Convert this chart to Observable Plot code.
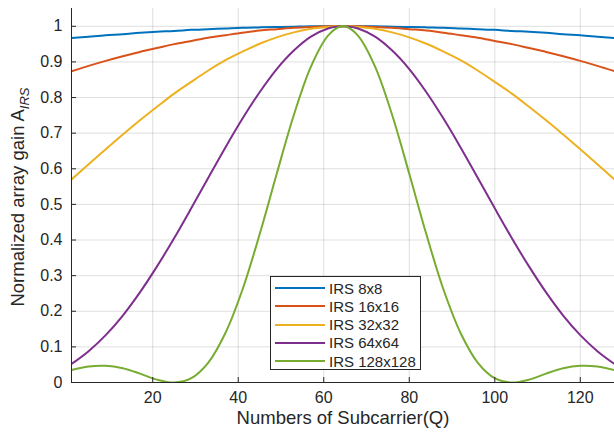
<!DOCTYPE html>
<html>
<head>
<meta charset="utf-8">
<script src="https://cdn.jsdelivr.net/npm/d3@7"></script>
<script src="https://cdn.jsdelivr.net/npm/@observablehq/plot@0.6"></script>
<style>
  html, body { margin: 0; padding: 0; background: #fff; }
  #wrap { position: relative; width: 614px; height: 432px; font-family: "Liberation Sans", Arial, sans-serif; color: #262626; }
  #wrap svg { position: absolute; left: 0; top: 0; }
  .xlabel { position: absolute; left: 343px; top: 418px; transform: translate(-50%, -50%); font-size: 18.5px; white-space: nowrap; }
  .ylabel { position: absolute; left: 19px; top: 197px; transform: translate(-50%, -50%) rotate(-90deg); font-size: 18.5px; white-space: nowrap; }
  .ylabel sub { font-style: italic; font-size: 13px; vertical-align: -5px; }
  .legend { position: absolute; left: 270px; top: 276px; width: 151px; height: 94px; border: 1px solid #262626; background: #fff; padding-top: 2px; box-sizing: border-box; }
  .legend .row { display: flex; align-items: center; height: 18.25px; font-size: 15px; white-space: nowrap; }
  .legend .sw { width: 50px; height: 2px; margin-left: 4px; margin-right: 4px; }
</style>
</head>
<body>
<div id="wrap"></div>
<script>
// ---- data ----
const subcarriers = [1,5,9,13,17,21,25,29,33,37,41,45,49,53,57,61,64,65,68,72,76,80,84,88,92,96,100,104,108,112,116,120,124,128];

const seriesNames = ["IRS 8x8", "IRS 16x16", "IRS 32x32", "IRS 64x64", "IRS 128x128"];
const seriesColors = ["#0072BD", "#D95319", "#EDB120", "#7E2F8E", "#77AC30"];

const gain8 = [0.967,0.971,0.975,0.978,0.982,0.985,0.987,0.990,0.992,0.994,0.996,0.997,0.998,0.999,1.000,1.000,1.000,1.000,1.000,1.000,0.999,0.998,0.997,0.996,0.994,0.992,0.990,0.987,0.985,0.982,0.978,0.975,0.971,0.967];
const gain16 = [0.874,0.889,0.903,0.916,0.928,0.939,0.950,0.959,0.968,0.975,0.982,0.988,0.992,0.996,0.998,1.000,1.000,1.000,1.000,0.998,0.996,0.992,0.988,0.982,0.975,0.968,0.959,0.950,0.939,0.928,0.916,0.903,0.889,0.874];
const gain32 = [0.570,0.613,0.655,0.696,0.736,0.774,0.811,0.844,0.876,0.905,0.929,0.951,0.969,0.983,0.993,0.998,1.000,1.000,0.998,0.993,0.983,0.969,0.951,0.929,0.905,0.876,0.844,0.811,0.774,0.736,0.696,0.655,0.613,0.570];
const gain64 = [0.052,0.088,0.133,0.188,0.253,0.326,0.405,0.489,0.575,0.660,0.741,0.815,0.880,0.932,0.971,0.994,1.000,1.000,0.994,0.971,0.932,0.880,0.815,0.741,0.660,0.575,0.489,0.405,0.326,0.253,0.188,0.133,0.088,0.052];
const gain128 = [0.035,0.045,0.047,0.040,0.025,0.008,0.000,0.012,0.056,0.139,0.261,0.416,0.586,0.751,0.887,0.974,1.000,1.000,0.974,0.887,0.751,0.586,0.416,0.261,0.139,0.056,0.012,0.000,0.008,0.025,0.040,0.047,0.045,0.035];

const xTicks = [20, 40, 60, 80, 100, 120];
const yTicks = [0, 0.1, 0.2, 0.3, 0.4, 0.5, 0.6, 0.7, 0.8, 0.9, 1];
const xDomain = [1, 128];
const yDomain = [0, 1.05];

const xTitle = "Numbers of Subcarrier(Q)";
const yTitle = "Normalized array gain A";
const yTitleSub = "IRS";

// ---- build table ----
const allGains = [gain8, gain16, gain32, gain64, gain128];
const rows = [];
allGains.forEach((arr, i) => {
  arr.forEach((v, j) => rows.push({ q: subcarriers[j], g: v, s: seriesNames[i] }));
});

const chart = Plot.plot({
  width: 614,
  height: 432,
  marginLeft: 71,
  marginRight: 0,
  marginTop: 8,
  marginBottom: 50,
  style: { fontFamily: "'Liberation Sans', Arial, sans-serif", fontSize: "16px", color: "#262626", background: "transparent", overflow: "hidden" },
  x: { domain: xDomain },
  y: { domain: yDomain },
  color: { domain: seriesNames, range: seriesColors },
  marks: [
    Plot.gridX(xTicks, { stroke: "#262626", strokeOpacity: 0.15 }),
    Plot.gridY(yTicks.filter(d => d > 0), { stroke: "#262626", strokeOpacity: 0.15 }),
    Plot.line(rows, { x: "q", y: "g", z: "s", stroke: "s", strokeWidth: 2, curve: "catmull-rom", clip: true }),
    Plot.axisX(xTicks, { tickSize: 0, tickPadding: 9, label: null, fill: "#262626" }),
    Plot.axisX(xTicks, { tickSize: -5, text: null, label: null, stroke: "#262626" }),
    Plot.axisY(yTicks, { tickSize: 0, tickPadding: 9, label: null, fill: "#262626", tickFormat: d => String(+d.toFixed(1)) }),
    Plot.axisY(yTicks, { tickSize: -5, text: null, label: null, stroke: "#262626" }),
    Plot.ruleX([xDomain[0]], { stroke: "#262626" }),
    Plot.ruleY([yDomain[0]], { stroke: "#262626" })
  ]
});

const wrap = document.getElementById("wrap");
wrap.appendChild(chart);

const xl = document.createElement("div");
xl.className = "xlabel";
xl.textContent = xTitle;
wrap.appendChild(xl);

const yl = document.createElement("div");
yl.className = "ylabel";
yl.textContent = yTitle;
const sub = document.createElement("sub");
sub.textContent = yTitleSub;
yl.appendChild(sub);
wrap.appendChild(yl);

const leg = document.createElement("div");
leg.className = "legend";
seriesNames.forEach((name, i) => {
  const r = document.createElement("div");
  r.className = "row";
  const sw = document.createElement("span");
  sw.className = "sw";
  sw.style.background = seriesColors[i];
  const t = document.createElement("span");
  t.textContent = name;
  r.appendChild(sw);
  r.appendChild(t);
  leg.appendChild(r);
});
wrap.appendChild(leg);
</script>
</body>
</html>
